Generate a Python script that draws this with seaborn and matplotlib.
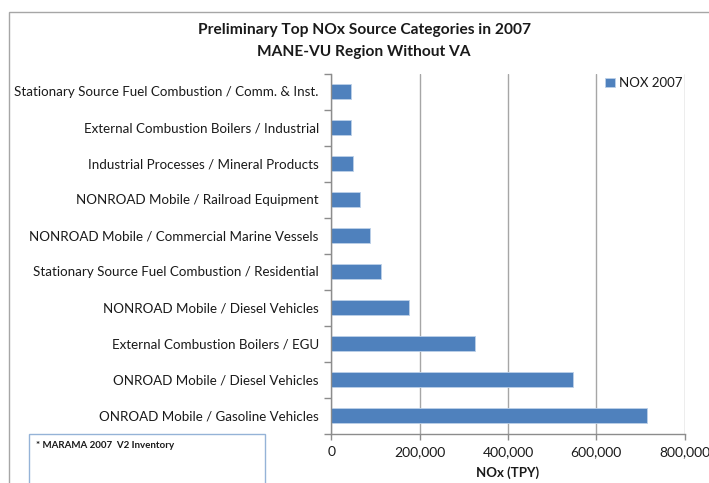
import matplotlib
matplotlib.use("Agg")
import matplotlib.pyplot as plt
from matplotlib.patches import Rectangle
from matplotlib.ticker import FuncFormatter, MultipleLocator
import numpy as np
import pandas as pd
import seaborn as sns

categories = [
    "Stationary Source Fuel Combustion / Comm. & Inst.",
    "External Combustion Boilers / Industrial",
    "Industrial Processes / Mineral Products",
    "NONROAD Mobile / Railroad Equipment",
    "NONROAD Mobile / Commercial Marine Vessels",
    "Stationary Source Fuel Combustion / Residential",
    "NONROAD Mobile / Diesel Vehicles",
    "External Combustion Boilers / EGU",
    "ONROAD Mobile / Diesel Vehicles",
    "ONROAD Mobile / Gasoline Vehicles",
]
nox_2007 = [45000, 45000, 49000, 65000, 87000, 112000, 176000, 326000, 548000, 714000]
series_name = "NOX 2007"
x_ticks = [0, 200000, 400000, 600000, 800000]

df = pd.DataFrame({"category": categories, "NOx": nox_2007, "series": series_name})

sns.set_theme(style="white")
plt.rcParams["font.family"] = ["Lato", "DejaVu Sans"]

fig = plt.figure(figsize=(7.09, 4.83), dpi=100)
ax = fig.add_axes([331.3 / 709, 1 - 433.5 / 483, (684.7 - 331.3) / 709, 360 / 483])

bar_color = "#4F81BD"
sns.barplot(data=df, y="category", x="NOx", hue="series", palette=[bar_color],
            saturation=1, orient="h", width=0.39, ax=ax, edgecolor="#BCD0E8",
            linewidth=0.6, order=categories)

ax.set_xlim(0, 800000)
ax.set_ylim(len(categories) - 0.5, -0.5)
ax.set_xticks(x_ticks)
ax.xaxis.set_major_formatter(FuncFormatter(lambda v, p: f"{int(v):,}"))
ax.grid(axis="x", color="#A6A6A6", linewidth=1.0)
ax.set_axisbelow(True)

for s in ["top", "right"]:
    ax.spines[s].set_visible(False)
for s in ["left", "bottom"]:
    ax.spines[s].set_color("#8C8C8C")
    ax.spines[s].set_linewidth(1.0)

# category ticks sit on the boundaries between bars
ax.yaxis.set_minor_locator(MultipleLocator(1, offset=0.5))
ax.tick_params(axis="y", which="major", length=0, pad=9, labelsize=9.6, labelcolor="#1A1A1A")
ax.tick_params(axis="y", which="minor", left=True, length=5, width=1, color="#8C8C8C")
ax.tick_params(axis="x", which="major", bottom=True, length=4, width=1, color="#8C8C8C",
               labelsize=10, labelcolor="#1A1A1A", pad=5)

ax.set_ylabel("")
ax.set_xlabel("NOx (TPY)", fontsize=9.5, fontweight="bold", color="#1A1A1A", labelpad=6)

leg = ax.legend(loc="upper right", bbox_to_anchor=(1.02, 1.015), frameon=False,
                handlelength=0.7, handleheight=0.7, handletextpad=0.35,
                fontsize=9.5, borderaxespad=0.3)
for t in leg.get_texts():
    t.set_color("#1A1A1A")

fig.text(364 / 709, 1 - 30 / 483, "Preliminary Top NOx Source Categories in 2007",
         ha="center", va="center", fontsize=11.2, fontweight="bold", color="#1A1A1A")
fig.text(364 / 709, 1 - 52 / 483, "MANE-VU Region Without VA",
         ha="center", va="center", fontsize=11.2, fontweight="bold", color="#1A1A1A")

# outer chart frame
fig.patches.append(Rectangle((8.5 / 709, -0.1), 1.2, 1 - 11.5 / 483 + 0.1,
                             transform=fig.transFigure, fill=False,
                             edgecolor="#A6A6A6", linewidth=1.0))
# footnote box
fig.patches.append(Rectangle((28.5 / 709, -0.1), (265 - 28.5) / 709, 1 - 434.5 / 483 + 0.1,
                             transform=fig.transFigure, fill=True, facecolor="white",
                             edgecolor="#95B3D7", linewidth=1.0))
fig.text(36 / 709, 1 - 446 / 483, "* MARAMA 2007  V2 Inventory", ha="left", va="center",
         fontsize=7, fontweight="bold", color="#1A1A1A")

fig.savefig("out.png", dpi=100)
